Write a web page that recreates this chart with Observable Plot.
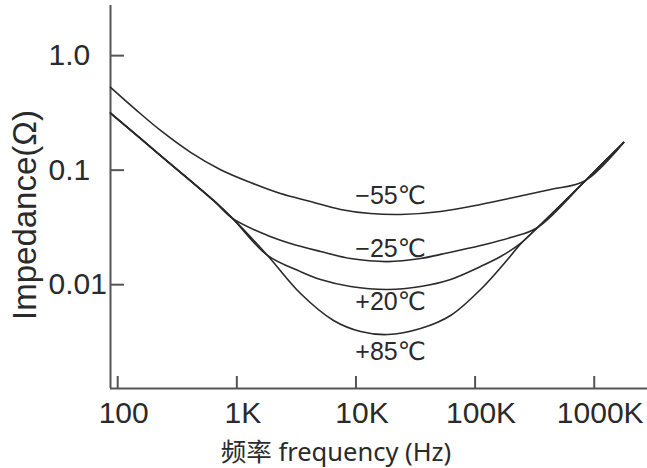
<!DOCTYPE html>
<html>
<head>
<meta charset="utf-8">
<script src="https://cdn.jsdelivr.net/npm/d3@7"></script>
<script src="https://cdn.jsdelivr.net/npm/@observablehq/plot@0.6"></script>
<style>
  html, body { margin: 0; padding: 0; background: #fff; }
  #chart svg { display: block; }
</style>
</head>
<body>
<div id="chart"></div>
<script>
// Axis domains and ticks
const xDomain = [87, 2.8e6];
const yDomain = [0.00124, 2.74];
const xTicks = [100, 1e3, 1e4, 1e5, 1e6];
const xTickLabels = ["100", "1K", "10K", "100K", "1000K"];
const yTicks = [1, 0.1, 0.01];
const yTickLabels = ["1.0", "0.1", "0.01"];

// Series: frequency (Hz) and impedance (Ω)
const seriesNames = ["-55", "-25", "+20", "+85"];
const freqM55 = [87, 141, 229, 409, 730, 1303, 2327, 4157, 7426, 13260, 23680, 51320, 111200, 210500, 430500, 846600, 1765000];
const zM55    = [0.528, 0.339, 0.222, 0.143, 0.1010, 0.0781, 0.0626, 0.0533, 0.0454, 0.0418, 0.0410, 0.0436, 0.0502, 0.0578, 0.0678, 0.0813, 0.1745];
const freqM25 = [87, 229, 637, 920, 1810, 2823, 5043, 9008, 18420, 34850, 51320, 111200, 198600, 334700, 846600, 1765000];
const zM25    = [0.315, 0.134, 0.0544, 0.0379, 0.0269, 0.0229, 0.0195, 0.0169, 0.0159, 0.0169, 0.0184, 0.0220, 0.0258, 0.0316, 0.0813, 0.1745];
const freqP20 = [87, 229, 637, 920, 1810, 3426, 5043, 9008, 18420, 34850, 62270, 111200, 163700, 241000, 334700, 846600, 1765000];
const zP20    = [0.315, 0.134, 0.0544, 0.0379, 0.0180, 0.0130, 0.0111, 0.00964, 0.00908, 0.00964, 0.0111, 0.0144, 0.0176, 0.0229, 0.0316, 0.0813, 0.1745];
const freqP85 = [87, 229, 637, 920, 1810, 3426, 6484, 10930, 18420, 34850, 62270, 111200, 187400, 241000, 334700, 846600, 1765000];
const zP85    = [0.315, 0.134, 0.0544, 0.0379, 0.0180, 0.00838, 0.00487, 0.00390, 0.00367, 0.00414, 0.00538, 0.00908, 0.0166, 0.0227, 0.0316, 0.0813, 0.1745];

// Curve labels
const tempLabels = ["−55℃", "−25℃", "+20℃", "+85℃"];
const labelFreq = [19500, 19500, 19500, 19500];
const labelZ = [0.0589, 0.0203, 0.00713, 0.00256];

const xTitle = "频率 frequency (Hz)";
const yTitle = "Impedance(Ω)";

const freqs = [freqM55, freqM25, freqP20, freqP85];
const zs = [zM55, zM25, zP20, zP85];
const rows = [];
seriesNames.forEach((s, k) => {
  freqs[k].forEach((f, i) => rows.push({series: s, f, z: zs[k][i]}));
});
const labelRows = tempLabels.map((t, i) => ({t, f: labelFreq[i], z: labelZ[i]}));

const ink = "#2a2a2a";
const axisInk = "#555";
const sans = "'Liberation Sans', 'DejaVu Sans', Arial, sans-serif";

const chart = Plot.plot({
  width: 647,
  height: 468,
  marginLeft: 110,
  marginRight: 0,
  marginTop: 5,
  marginBottom: 80,
  x: {type: "log", domain: xDomain, axis: null},
  y: {type: "log", domain: yDomain, axis: null},
  style: {fontFamily: sans, background: "#fff", color: ink},
  marks: [
    Plot.ruleX([xDomain[0]], {stroke: axisInk, strokeWidth: 2}),
    Plot.ruleY([yDomain[0]], {stroke: axisInk, strokeWidth: 2}),
    Plot.tickY(yTicks, {y: d => d, insetRight: 523, stroke: axisInk, strokeWidth: 2}),
    Plot.tickX(xTicks, {x: d => d, insetTop: 371, stroke: axisInk, strokeWidth: 2}),
    Plot.text(yTicks, {y: d => d, text: (d, i) => yTickLabels[i], frameAnchor: "left", textAnchor: "start", lineAnchor: "middle", dx: -62, fontSize: 30, fill: ink}),
    Plot.text(xTicks, {x: d => d, text: (d, i) => xTickLabels[i], frameAnchor: "bottom", lineAnchor: "middle", dx: 6, dy: 25, fontSize: 30, fill: ink}),
    Plot.line(rows, {x: "f", y: "z", z: "series", curve: "catmull-rom", stroke: ink, strokeWidth: 1.6}),
    Plot.text(labelRows, {x: "f", y: "z", text: "t", textAnchor: "middle", lineAnchor: "middle", fontSize: 25, fill: ink}),
    Plot.text([xTitle], {text: d => d, frameAnchor: "bottom", lineAnchor: "middle", dx: -43, dy: 64, fontSize: 25.5, fill: ink, fontFamily: "'Noto Sans', 'Noto Sans CJK SC', sans-serif"}),
    Plot.text([yTitle], {text: d => d, frameAnchor: "left", rotate: -90, textAnchor: "middle", lineAnchor: "middle", dx: -85, dy: 18, fontSize: 33, fill: ink})
  ]
});
document.getElementById("chart").appendChild(chart);
</script>
</body>
</html>
